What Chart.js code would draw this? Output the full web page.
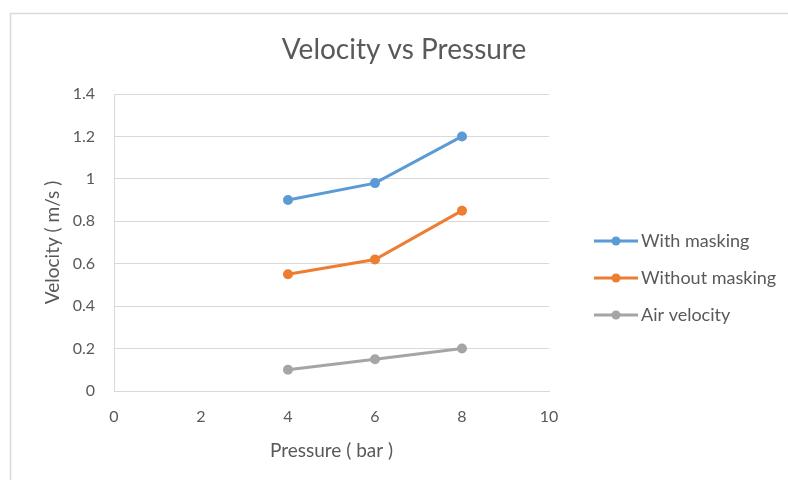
<!DOCTYPE html>
<html>
<head>
<meta charset="utf-8">
<script src="https://cdn.jsdelivr.net/npm/chart.js@4/dist/chart.umd.min.js"></script>
<style>
    html, body { margin: 0; padding: 0; background: #fff; }
    #chartBox { width: 788px; height: 480px; }
</style>
</head>
<body>
<div id="chartBox"><canvas id="velocityChart" width="788" height="480"></canvas></div>
<script>
// Chart data
var pressures = [4, 6, 8];
var withMasking = [0.9, 0.98, 1.2];
var withoutMasking = [0.55, 0.62, 0.85];
var airVelocity = [0.1, 0.15, 0.2];
var seriesNames = ['With masking', 'Without masking', 'Air velocity'];
var seriesColors = ['#5b9bd5', '#ed7d31', '#a5a5a5'];
var xTickLabels = ['0', '2', '4', '6', '8', '10'];
var yTickLabels = ['0', '0.2', '0.4', '0.6', '0.8', '1', '1.2', '1.4'];

var textColor = '#595959';
var fontName = 'Lato, "Liberation Sans", sans-serif';

function toPoints(values) {
    return values.map(function (v, i) {
        return { x: pressures[i], y: v };
    });
}

function makeDataset(idx, values) {
    return {
        label: seriesNames[idx],
        data: toPoints(values),
        borderColor: seriesColors[idx],
        backgroundColor: seriesColors[idx],
        borderWidth: 3,
        pointRadius: 5,
        pointHoverRadius: 5,
        pointBorderWidth: 0,
        tension: 0
    };
}

// Outer frame, title and legend (Excel look)
var excelLook = {
    id: 'excelLook',
    beforeDraw: function (chart) {
        var ctx = chart.ctx;
        ctx.save();
        ctx.fillStyle = '#ffffff';
        ctx.fillRect(0, 0, chart.width, chart.height);
        ctx.strokeStyle = '#d9d9d9';
        ctx.lineWidth = 1.5;
        ctx.beginPath();
        ctx.moveTo(10.5, chart.height);
        ctx.lineTo(10.5, 13.5);
        ctx.lineTo(chart.width, 13.5);
        ctx.stroke();
        ctx.restore();
    },
    afterDraw: function (chart) {
        var ctx = chart.ctx;
        ctx.save();
        // title
        ctx.fillStyle = textColor;
        ctx.font = '28px ' + fontName;
        ctx.textAlign = 'center';
        ctx.textBaseline = 'middle';
        ctx.fillText('Velocity vs Pressure', 404, 50);

        // legend
        ctx.font = '18px ' + fontName;
        ctx.textAlign = 'left';
        chart.data.datasets.forEach(function (ds, i) {
            var y = 241 + 37 * i;
            ctx.strokeStyle = ds.borderColor;
            ctx.lineWidth = 3;
            ctx.beginPath();
            ctx.moveTo(594, y);
            ctx.lineTo(638, y);
            ctx.stroke();
            ctx.fillStyle = ds.borderColor;
            ctx.beginPath();
            ctx.arc(616, y, 4.5, 0, Math.PI * 2);
            ctx.fill();
            ctx.fillStyle = textColor;
            ctx.fillText(ds.label, 641, y);
        });
        ctx.restore();
    }
};

var velocityChart = new Chart(document.getElementById('velocityChart'), {
    type: 'line',
    data: {
        datasets: [
            makeDataset(0, withMasking),
            makeDataset(1, withoutMasking),
            makeDataset(2, airVelocity)
        ]
    },
    options: {
        responsive: false,
        animation: false,
        layout: {
            padding: { top: 94, left: 0, right: 239, bottom: 0 }
        },
        plugins: {
            legend: { display: false },
            title: { display: false },
            tooltip: { enabled: false }
        },
        scales: {
            x: {
                type: 'linear',
                min: 0,
                max: 10,
                ticks: {
                    stepSize: 2,
                    padding: 16,
                    color: textColor,
                    font: { family: fontName, size: 16 },
                    callback: function (value, index) {
                        return xTickLabels[index];
                    }
                },
                grid: { display: false, drawTicks: false },
                border: { display: true, color: '#d9d9d9', width: 1 },
                title: {
                    display: true,
                    text: 'Pressure ( bar )',
                    color: textColor,
                    font: { family: fontName, size: 19 },
                    padding: { top: 0, bottom: 18 }
                },
                afterFit: function (scale) {
                    scale.height = 89;
                }
            },
            y: {
                min: 0,
                max: 1.4,
                ticks: {
                    stepSize: 0.2,
                    padding: 19,
                    color: textColor,
                    font: { family: fontName, size: 16 },
                    callback: function (value, index) {
                        return yTickLabels[index];
                    }
                },
                grid: { color: '#d9d9d9', lineWidth: 1, drawTicks: false },
                border: { display: true, color: '#d9d9d9', width: 1 },
                title: {
                    display: true,
                    text: 'Velocity ( m/s )',
                    color: textColor,
                    font: { family: fontName, size: 19 },
                    padding: { top: 41, bottom: 0 }
                },
                afterFit: function (scale) {
                    scale.width = 114;
                }
            }
        }
    },
    plugins: [excelLook]
});
</script>
</body>
</html>
